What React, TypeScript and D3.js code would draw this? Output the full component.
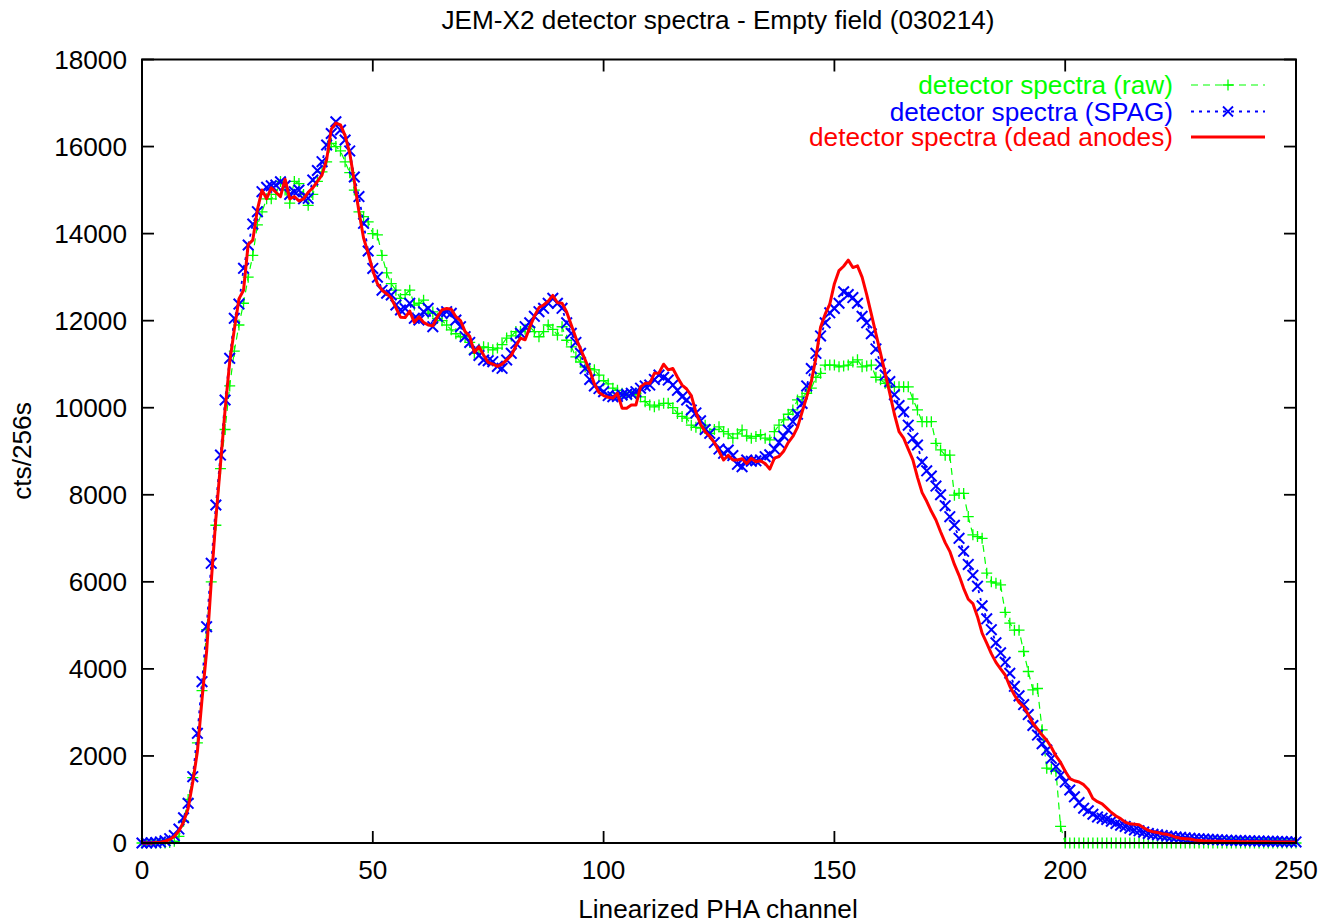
import React from "react";
import * as d3 from "d3";

// PHA channels 0..250
const channels: number[] = d3.range(0, 251);

const rawSpectrum: number[] = [
  0, 0, 0, 0, 0, 0, 10, 40, 150, 500,
  1000, 1500, 2300, 3500, 4900, 6000, 7300, 8600, 9500, 10500,
  11300, 11900, 12400, 13000, 13500, 14200, 14500, 14800, 14800, 14900,
  15200, 15000, 14700, 15200, 15150, 14900, 14650, 14900, 15200, 15420,
  15650, 16070, 16000, 15900, 15650, 15400, 15000, 14500, 14390, 14270,
  14000, 13970, 13500, 13100, 12850, 12700, 12510, 12600, 12700, 12360,
  12400, 12470, 12170, 12200, 12050, 12000, 11900, 11790, 11700, 11630,
  11630, 11500, 11250, 11350, 11400, 11380, 11330, 11370, 11450, 11600,
  11650, 11750, 11750, 11800, 11860, 11750, 11630, 11750, 11900, 11800,
  11670, 11860, 11550, 11400, 11170, 11050, 10940, 10900, 10870, 10750,
  10620, 10550, 10450, 10400, 10330, 10290, 10300, 10330, 10250, 10140,
  10060, 10020, 10060, 10100, 10100, 10000, 9870, 9800, 9760, 9600,
  9550, 9530, 9600, 9410, 9500, 9560, 9450, 9400, 9300, 9400,
  9490, 9350, 9300, 9340, 9380, 9300, 9260, 9450, 9600, 9720,
  9850, 9950, 10180, 10250, 10330, 10450, 10700, 10790, 10980, 10980,
  10980, 10940, 10960, 10980, 11050, 11100, 10940, 10960, 10980, 10700,
  10640, 10560, 10480, 10480, 10480, 10480, 10480, 10200, 9950, 9680,
  9680, 9680, 9180, 9030, 8910, 8910, 7990, 8030, 8030, 7500,
  7080, 7040, 7000, 6200, 6000, 5970, 5930, 5300, 5050, 4890,
  4890, 4400, 3940, 3520, 3550, 2600, 1720, 1700, 1650, 380,
  0, 0, 0, 0, 0, 0, 0, 0, 0, 0,
  0, 0, 0, 0, 0, 0, 0, 0, 0, 0,
  0, 0, 0, 0, 0, 0, 0, 0, 0, 0,
  0, 0, 0, 0, 0, 0, 0, 0, 0, 0,
  0, 0, 0, 0, 0, 0, 0, 0, 0, 0,
  0,
];

const spagSpectrum: number[] = [
  0, 0, 5, 10, 25, 50, 100, 170, 320, 580,
  912, 1523, 2520, 3706, 4970, 6425, 7765, 8913, 10177, 11135,
  12054, 12382, 13202, 13738, 14220, 14503, 14963, 15063, 15100, 15116,
  15192, 15100, 14900, 14963, 15000, 14800, 14810, 15231, 15450, 15652,
  16035, 16300, 16570, 16380, 16150, 15900, 15300, 14850, 14236, 13600,
  13200, 13000, 12700, 12630, 12589, 12360, 12245, 12280, 12398, 12054,
  12015, 12207, 12283, 11862, 12100, 12168, 12207, 12168, 12015, 11862,
  11632, 11500, 11326, 11200, 11096, 11080, 11058, 10950, 10905, 11096,
  11250, 11480, 11709, 11862, 11950, 12100, 12207, 12283, 12400, 12513,
  12400, 12283, 11950, 11709, 11500, 11250, 10900, 10650, 10500, 10440,
  10368, 10280, 10253, 10260, 10292, 10310, 10330, 10368, 10450, 10500,
  10521, 10650, 10751, 10700, 10636, 10520, 10400, 10250, 10177, 9947,
  9880, 9700, 9500, 9411, 9200, 9050, 8953, 9028, 8900, 8700,
  8645, 8799, 8770, 8780, 8800, 8875, 8920, 9050, 9200, 9350,
  9488, 9679, 9850, 10100, 10500, 10900, 11250, 11650, 11950, 12180,
  12280, 12400, 12665, 12600, 12530, 12400, 12100, 11950, 11700, 11350,
  11000, 10750, 10600, 10300, 10050, 9900, 9600, 9300, 9143, 8750,
  8550, 8430, 8200, 8000, 7750, 7496, 7300, 7000, 6700, 6400,
  6150, 5900, 5450, 5150, 4900, 4600, 4370, 4150, 3900, 3600,
  3380, 3180, 2950, 2700, 2480, 2280, 2136, 1945, 1753, 1560,
  1400, 1218, 1060, 930, 800, 740, 660, 600, 570, 540,
  500, 450, 410, 380, 340, 300, 280, 250, 220, 200,
  190, 175, 160, 150, 140, 130, 120, 110, 100, 95,
  90, 85, 80, 75, 70, 65, 60, 58, 55, 52,
  50, 48, 45, 42, 40, 38, 35, 32, 30, 28,
  25,
];

const deadAnodesSpectrum: number[] = [
  0, 0, 0, 10, 20, 40, 80, 150, 280, 480,
  800, 1400, 2100, 3300, 4400, 6000, 7450, 8700, 9950, 11050,
  11800, 12500, 12700, 13750, 13850, 14550, 15000, 14800, 15050, 14950,
  14850, 15250, 14800, 14850, 14750, 14800, 14950, 15050, 15200, 15350,
  15700, 16400, 16540, 16500, 16250, 15850, 15200, 14500, 13900, 13550,
  13150, 12850, 12700, 12620, 12520, 12300, 12080, 12070, 12220, 11960,
  12090, 11960, 11900, 11880, 12090, 12250, 12280, 12260, 12090, 12000,
  11750, 11640, 11270, 11400, 11210, 11040, 11000, 10950, 11000, 11100,
  11200, 11420, 11600, 11560, 11850, 12100, 12300, 12360, 12450, 12580,
  12410, 12400, 12200, 11900, 11600, 11350, 11100, 10850, 10550, 10350,
  10280, 10240, 10220, 10330, 9990, 9990, 10060, 10060, 10480, 10560,
  10560, 10790, 10800, 11000, 10870, 10900, 10700, 10520, 10430, 10280,
  9900, 9620, 9450, 9340, 9200, 9000, 8800, 8910, 8800, 8800,
  8830, 8720, 8840, 8760, 8780, 8720, 8590, 8840, 8880, 9000,
  9200, 9340, 9550, 9900, 10250, 10600, 11150, 11850, 12150, 12380,
  12850, 13150, 13250, 13390, 13220, 13260, 13000, 12600, 12150, 11700,
  11250, 10790, 10330, 9850, 9450, 9300, 9050, 8800, 8400, 8050,
  7850, 7620, 7420, 7150, 6900, 6700, 6400, 6150, 5850, 5600,
  5500, 5200, 4820, 4590, 4350, 4150, 4000, 3860, 3600, 3400,
  3230, 3130, 2950, 2750, 2620, 2480, 2360, 2200, 2000, 1850,
  1650, 1480, 1430, 1400, 1340, 1230, 1020, 950, 900, 800,
  700, 620, 560, 480, 440, 430, 420, 350, 290, 260,
  240, 215, 200, 170, 130, 110, 100, 90, 70, 60,
  50, 45, 40, 40, 38, 35, 35, 33, 30, 30,
  30, 28, 28, 27, 26, 25, 25, 24, 22, 22,
  20,
];

const xTicks: number[] = [0, 50, 100, 150, 200, 250];
const yTicks: number[] = [0, 2000, 4000, 6000, 8000, 10000, 12000, 14000, 16000, 18000];

const titleText = "JEM-X2 detector spectra - Empty field (030214)";
const xLabel = "Linearized PHA channel";
const yLabel = "cts/256s";
const legendLabels = [
  "detector spectra (raw)",
  "detector spectra (SPAG)",
  "detector spectra (dead anodes)",
];

const W = 1333;
const H = 924;
const left = 142;
const right = 1296;
const top = 59.5;
const bottom = 843;
const FONT = "'Liberation Sans', Arial, Helvetica, sans-serif";
const FS = 26.2;

const GREEN = "#00ff00";
const BLUE = "#0000ff";
const RED = "#ff0000";

export default function App() {
  const x = d3.scaleLinear().domain([0, 250]).range([left, right]);
  const y = d3.scaleLinear().domain([0, 18000]).range([bottom, top]);

  const mk = (vals: number[]) =>
    d3
      .line<number>()
      .x((_, i) => x(channels[i]))
      .y((v) => y(v))(vals) || "";

  const plusPath = "M-5.5,0H5.5M0,-5.5V5.5";
  const crossPath = "M-5.3,-5.3L5.3,5.3M-5.3,5.3L5.3,-5.3";
  const legendCross = "M-5,-5L5,5M-5,5L5,-5";
  const tickLen = 12;

  const legendY = [85, 111.5, 137];
  const lx0 = 1191;
  const lx1 = 1265;
  const lxm = (lx0 + lx1) / 2;

  return (
    <svg
      width={W}
      height={H}
      style={{ position: "absolute", left: 0, top: 0, background: "#fff" }}
      fontFamily={FONT}
    >
      <rect x={0} y={0} width={W} height={H} fill="#fff" />
      <defs>
        <clipPath id="plotclip">
          <rect x={left - 7} y={top - 7} width={right - left + 14} height={bottom - top + 14} />
        </clipPath>
      </defs>

      {/* ticks */}
      {yTicks.map((t) => (
        <g key={"yt" + t}>
          <line x1={left} x2={left + tickLen} y1={y(t)} y2={y(t)} stroke="#000" strokeWidth={1.8} />
          <line x1={right} x2={right - tickLen} y1={y(t)} y2={y(t)} stroke="#000" strokeWidth={1.8} />
          <text x={127} y={y(t)} dy="0.35em" textAnchor="end" fontSize={FS} fill="#000">
            {t}
          </text>
        </g>
      ))}
      {xTicks.map((t) => (
        <g key={"xt" + t}>
          <line x1={x(t)} x2={x(t)} y1={bottom} y2={bottom - tickLen} stroke="#000" strokeWidth={1.8} />
          <line x1={x(t)} x2={x(t)} y1={top} y2={top + tickLen} stroke="#000" strokeWidth={1.8} />
          <text x={x(t)} y={879} textAnchor="middle" fontSize={FS} fill="#000">
            {t}
          </text>
        </g>
      ))}

      {/* series */}
      <g clipPath="url(#plotclip)">
        <path d={mk(rawSpectrum)} fill="none" stroke={GREEN} strokeWidth={1.2} strokeDasharray="7,5" />
        {rawSpectrum.map((v, i) => (
          <path
            key={"g" + i}
            d={plusPath}
            transform={`translate(${x(channels[i])},${y(v)})`}
            stroke={GREEN}
            strokeWidth={1.3}
            fill="none"
          />
        ))}
        <path d={mk(spagSpectrum)} fill="none" stroke={BLUE} strokeWidth={1.8} strokeDasharray="3,5" />
        {spagSpectrum.map((v, i) => (
          <path
            key={"b" + i}
            d={crossPath}
            transform={`translate(${x(channels[i])},${y(v)})`}
            stroke={BLUE}
            strokeWidth={2}
            fill="none"
          />
        ))}
        <path d={mk(deadAnodesSpectrum)} fill="none" stroke={RED} strokeWidth={3} strokeLinejoin="round" />
      </g>

      {/* border */}
      <rect x={left} y={top} width={right - left} height={bottom - top} fill="none" stroke="#000" strokeWidth={2} />

      {/* legend */}
      <g>
        <text x={1173} y={legendY[0]} dy="0.35em" textAnchor="end" fontSize={FS} fill={GREEN}>
          {legendLabels[0]}
        </text>
        <line x1={lx0} x2={lx1} y1={legendY[0]} y2={legendY[0]} stroke={GREEN} strokeWidth={1.2} strokeDasharray="7,5" />
        <path d={plusPath} transform={`translate(${lxm},${legendY[0]})`} stroke={GREEN} strokeWidth={1.3} />

        <text x={1173} y={legendY[1]} dy="0.35em" textAnchor="end" fontSize={FS} fill={BLUE}>
          {legendLabels[1]}
        </text>
        <line x1={lx0} x2={lx1} y1={legendY[1]} y2={legendY[1]} stroke={BLUE} strokeWidth={1.8} strokeDasharray="3,5" />
        <path d={legendCross} transform={`translate(${lxm},${legendY[1]})`} stroke={BLUE} strokeWidth={1.8} />

        <text x={1173} y={legendY[2]} dy="0.35em" textAnchor="end" fontSize={FS} fill={RED}>
          {legendLabels[2]}
        </text>
        <line x1={lx0} x2={lx1} y1={legendY[2]} y2={legendY[2]} stroke={RED} strokeWidth={3} />
      </g>

      {/* titles */}
      <text x={718} y={29} textAnchor="middle" fontSize={FS} fill="#000">
        {titleText}
      </text>
      <text x={718} y={918} textAnchor="middle" fontSize={FS} fill="#000">
        {xLabel}
      </text>
      <text transform="translate(31,451) rotate(-90)" textAnchor="middle" fontSize={FS} fill="#000">
        {yLabel}
      </text>
    </svg>
  );
}
